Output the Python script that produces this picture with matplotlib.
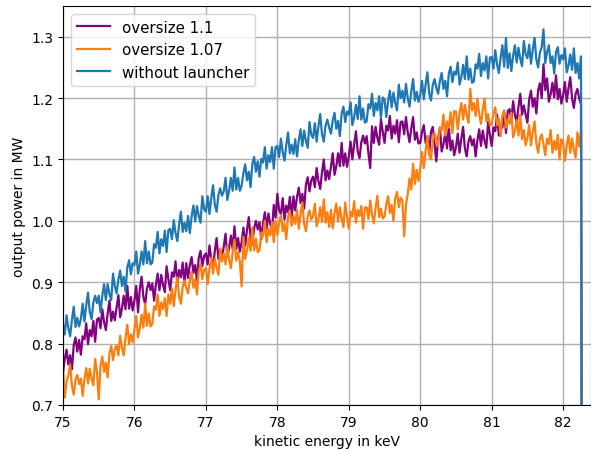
import numpy as np
import matplotlib
matplotlib.use('Agg')
import matplotlib.pyplot as plt

# energy grid of the scan (0.025 keV steps) plus the cut-off point at the end
energy = np.append(np.linspace(75.0, 82.25, 291), 82.27)

p_oversize_11 = [
    .752, .775, .790, .766, .781, .758, .797, .810, .787, .806,
    .782, .812, .807, .833, .799, .822, .812, .837, .803, .839,
    .842, .825, .856, .835, .822, .849, .870, .837, .852, .838,
    .858, .879, .843, .857, .878, .856, .894, .857, .876, .854,
    .870, .894, .851, .889, .909, .876, .864, .890, .900, .887,
    .898, .870, .896, .914, .887, .912, .895, .884, .926, .905,
    .887, .916, .909, .934, .898, .920, .908, .932, .896, .931,
    .907, .928, .941, .915, .928, .903, .940, .951, .926, .943,
    .947, .929, .960, .938, .925, .951, .972, .938, .953, .938,
    .958, .979, .942, .956, .976, .954, .991, .954, .972, .950,
    .965, .989, .960, .985, 1.006, .973, .962, .988, 1.000, .986,
    .998, .970, .996, 1.014, .987, 1.012, .995, .984, 1.026, 1.005,
    1.044, 1.017, 1.011, 1.037, 1.002, 1.025, 1.014, 1.039, 1.004, 1.040,
    1.017, 1.039, 1.054, 1.029, 1.044, 1.020, 1.059, 1.071, 1.048, 1.066,
    1.072, 1.055, 1.086, 1.065, 1.052, 1.079, 1.100, 1.066, 1.082, 1.068,
    1.088, 1.110, 1.075, 1.089, 1.110, 1.089, 1.127, 1.090, 1.110, 1.088,
    1.105, 1.129, 1.100, 1.125, 1.146, 1.113, 1.102, 1.128, 1.139, 1.126,
    1.138, 1.110, 1.086, 1.154, 1.127, 1.153, 1.135, 1.124, 1.166, 1.145,
    1.127, 1.155, 1.147, 1.171, 1.134, 1.155, 1.142, 1.164, 1.128, 1.161,
    1.162, 1.141, 1.169, 1.144, 1.128, 1.151, 1.169, 1.132, 1.144, 1.126,
    1.127, 1.145, 1.156, 1.127, 1.138, 1.110, 1.145, 1.153, 1.126, 1.097,
    1.133, 1.152, 1.113, 1.125, 1.143, 1.118, 1.154, 1.115, 1.131, 1.107,
    1.120, 1.142, 1.111, 1.134, 1.153, 1.118, 1.105, 1.129, 1.138, 1.123,
    1.133, 1.105, 1.131, 1.149, 1.122, 1.147, 1.130, 1.119, 1.161, 1.140,
    1.122, 1.152, 1.146, 1.173, 1.139, 1.155, 1.152, 1.177, 1.143, 1.179,
    1.182, 1.164, 1.195, 1.173, 1.160, 1.186, 1.207, 1.173, 1.188, 1.173,
    1.160, 1.198, 1.212, 1.186, 1.200, 1.175, 1.213, 1.224, 1.200, 1.255,
    1.213, 1.232, 1.194, 1.206, 1.225, 1.201, 1.237, 1.198, 1.215, 1.191,
    1.205, 1.226, 1.194, 1.216, 1.234, 1.199, 1.184, 1.207, 1.215, 1.199,
    1.190, 0.0,
]

p_oversize_107 = [
    .763, .712, .739, .748, .766, .731, .717, .741, .749, .734,
    .743, .715, .742, .760, .735, .759, .743, .732, .775, .754,
    .709, .764, .779, .754, .769, .745, .784, .796, .773, .791,
    .797, .781, .813, .793, .781, .809, .831, .799, .815, .802,
    .823, .845, .810, .825, .847, .826, .865, .829, .849, .828,
    .832, .861, .855, .880, .845, .867, .856, .874, .845, .880,
    .865, .890, .861, .887, .908, .876, .865, .892, .903, .891,
    .882, .903, .917, .891, .905, .880, .918, .929, .905, .921,
    .923, .897, .922, .940, .914, .939, .923, .912, .955, .934,
    .947, .929, .959, .937, .923, .949, .969, .935, .949, .934,
    .893, .974, .938, .952, .973, .951, .989, .952, .971, .949,
    .952, .981, .975, 1.000, .965, .987, .976, .998, .965, 1.000,
    .977, .997, 1.010, .983, .996, .970, 1.007, 1.017, .992, 1.008,
    .995, 1.018, .987, 1.011, 1.030, .995, .983, 1.008, 1.017, 1.002,
    1.008, 1.028, .991, 1.002, 1.022, .998, 1.035, .997, 1.014, .990,
    1.018, .988, 1.012, 1.028, .999, 1.022, 1.003, .990, 1.030, 1.007,
    .987, 1.015, 1.007, 1.032, .997, 1.018, 1.008, 1.024, .987, 1.022,
    1.022, 1.003, 1.033, 1.010, .996, 1.021, 1.041, 1.006, 1.020, 1.004,
    1.007, 1.027, 1.040, 1.013, 1.026, 1.000, 1.037, 1.047, 1.022, 1.038,
    1.033, .975, 1.026, 1.044, 1.069, 1.051, 1.093, 1.060, 1.083, 1.065,
    1.085, 1.112, 1.086, 1.114, 1.138, 1.108, 1.100, 1.129, 1.143, 1.133,
    1.122, 1.152, 1.147, 1.173, 1.139, 1.162, 1.152, 1.177, 1.143, 1.179,
    1.178, 1.149, 1.175, 1.192, 1.165, 1.189, 1.172, 1.160, 1.215, 1.180,
    1.192, 1.171, 1.199, 1.174, 1.158, 1.181, 1.199, 1.162, 1.174, 1.156,
    1.157, 1.175, 1.185, 1.156, 1.166, 1.138, 1.172, 1.180, 1.152, 1.166,
    1.158, 1.176, 1.136, 1.147, 1.164, 1.139, 1.173, 1.133, 1.148, 1.123,
    1.135, 1.156, 1.123, 1.145, 1.162, 1.126, 1.111, 1.134, 1.141, 1.125,
    1.107, 1.134, 1.125, 1.148, 1.111, 1.130, 1.116, 1.140, 1.100, 1.133,
    1.128, 1.098, 1.123, 1.139, 1.111, 1.134, 1.116, 1.103, 1.144, 1.121,
    1.145, 0.0,
]

p_no_launcher = [
    .832, .815, .846, .825, .812, .839, .860, .827, .842, .828,
    .840, .865, .836, .862, .883, .851, .840, .867, .878, .866,
    .878, .851, .878, .897, .871, .897, .881, .871, .914, .894,
    .882, .904, .919, .894, .909, .885, .924, .936, .913, .931,
    .928, .950, .914, .929, .950, .929, .967, .931, .950, .929,
    .932, .962, .956, .982, .947, .970, .959, .984, .949, .985,
    .987, .970, 1.001, .980, .967, .994, 1.015, .982, .997, .983,
    1.008, .980, 1.007, 1.025, .999, 1.024, 1.008, .997, 1.040, 1.019,
    1.015, 1.040, 1.011, 1.037, 1.058, 1.026, 1.015, 1.042, 1.053, 1.041,
    1.048, 1.070, 1.034, 1.049, 1.070, 1.049, 1.087, 1.051, 1.070, 1.049,
    1.057, 1.078, 1.092, 1.066, 1.080, 1.055, 1.093, 1.104, 1.080, 1.097,
    1.072, 1.101, 1.095, 1.120, 1.085, 1.107, 1.096, 1.120, 1.085, 1.120,
    1.122, 1.104, 1.134, 1.112, 1.098, 1.124, 1.144, 1.110, 1.124, 1.109,
    1.133, 1.105, 1.131, 1.149, 1.122, 1.147, 1.130, 1.119, 1.161, 1.140,
    1.135, 1.159, 1.129, 1.154, 1.174, 1.141, 1.129, 1.155, 1.165, 1.152,
    1.142, 1.163, 1.176, 1.150, 1.163, 1.138, 1.175, 1.186, 1.161, 1.178,
    1.173, 1.193, 1.156, 1.169, 1.189, 1.166, 1.203, 1.165, 1.183, 1.160,
    1.162, 1.190, 1.183, 1.207, 1.171, 1.192, 1.180, 1.203, 1.167, 1.201,
    1.198, 1.169, 1.195, 1.212, 1.185, 1.209, 1.192, 1.180, 1.222, 1.200,
    1.212, 1.193, 1.223, 1.200, 1.186, 1.211, 1.231, 1.196, 1.210, 1.194,
    1.205, 1.228, 1.198, 1.222, 1.242, 1.208, 1.196, 1.221, 1.231, 1.217,
    1.207, 1.228, 1.241, 1.215, 1.228, 1.203, 1.240, 1.251, 1.226, 1.243,
    1.238, 1.258, 1.222, 1.234, 1.254, 1.231, 1.268, 1.230, 1.248, 1.225,
    1.227, 1.255, 1.248, 1.272, 1.236, 1.257, 1.245, 1.268, 1.232, 1.266,
    1.267, 1.248, 1.278, 1.255, 1.241, 1.266, 1.286, 1.251, 1.298, 1.249,
    1.273, 1.244, 1.269, 1.286, 1.258, 1.282, 1.264, 1.252, 1.293, 1.271,
    1.265, 1.287, 1.256, 1.279, 1.298, 1.263, 1.250, 1.274, 1.283, 1.312,
    1.257, 1.275, 1.286, 1.257, 1.268, 1.240, 1.275, 1.283, 1.256, 1.270,
    1.263, 1.281, 1.242, 1.253, 1.271, 1.246, 1.281, 1.241, 1.257, 1.232,
    1.268, 0.0,
]

x_ticks = [75, 76, 77, 78, 79, 80, 81, 82]
y_ticks = [0.7, 0.8, 0.9, 1.0, 1.1, 1.2, 1.3]

fig = plt.figure(figsize=(5.91, 4.52), dpi=100)
ax = fig.add_axes([0.1066, 0.1018, 0.8934, 0.8827])

ax.plot(energy, p_oversize_11, color='purple', lw=1.6, label='oversize 1.1')
ax.plot(energy, p_oversize_107, color='tab:orange', lw=1.6, label='oversize 1.07')
ax.plot(energy, p_no_launcher, color='tab:blue', lw=1.6, label='without launcher')

ax.set_xlim(75, 82.39)
ax.set_ylim(0.7, 1.35)
ax.set_xticks(x_ticks)
ax.set_yticks(y_ticks)
ax.grid(True, color='#b0b0b0', lw=1)
ax.set_xlabel('kinetic energy in keV')
ax.set_ylabel('output power in MW')
ax.legend(loc='upper left', fontsize=10.8, handlelength=2.2)

fig.savefig('out.png', dpi=100)
